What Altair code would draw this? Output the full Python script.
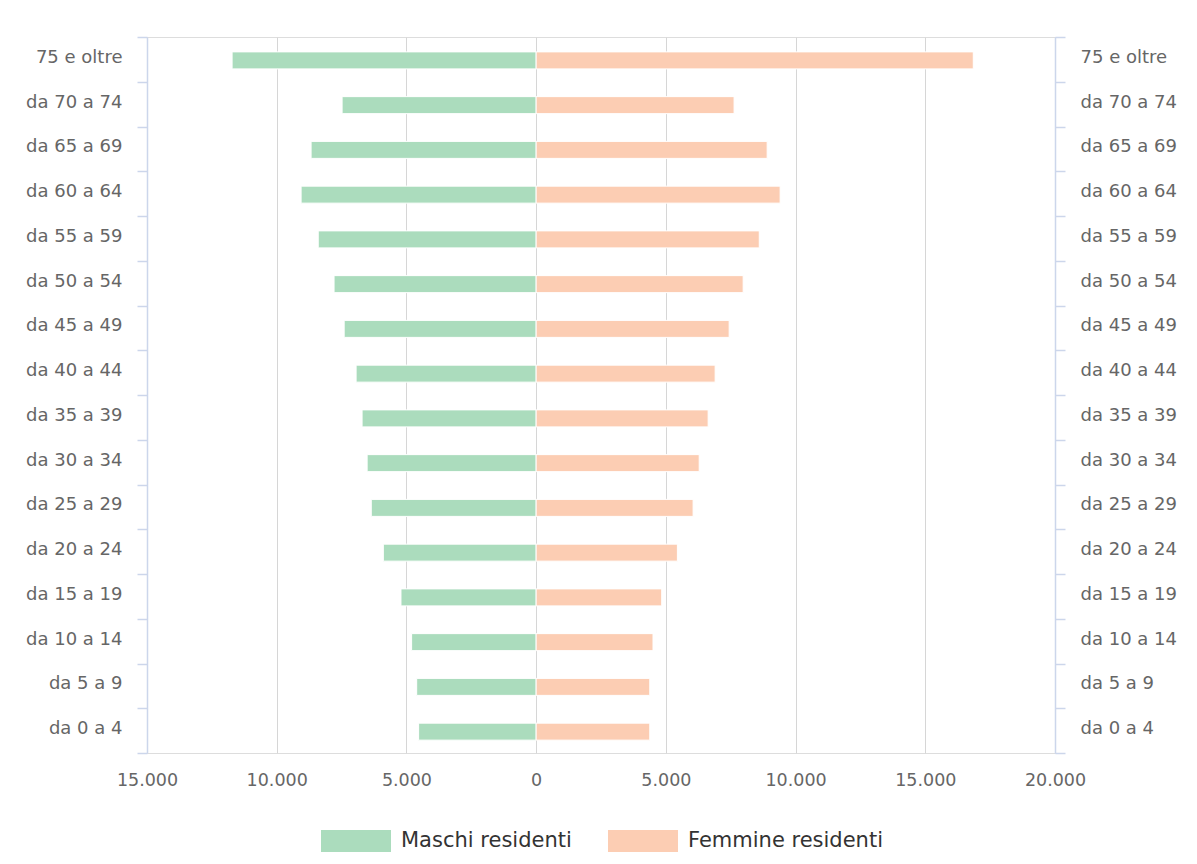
import altair as alt
import pandas as pd

ages = ["75 e oltre", "da 70 a 74", "da 65 a 69", "da 60 a 64", "da 55 a 59",
        "da 50 a 54", "da 45 a 49", "da 40 a 44", "da 35 a 39", "da 30 a 34",
        "da 25 a 29", "da 20 a 24", "da 15 a 19", "da 10 a 14", "da 5 a 9", "da 0 a 4"]
males = [11720, 7480, 8675, 9060, 8400, 7790, 7400, 6940, 6710, 6515,
         6355, 5890, 5210, 4800, 4605, 4530]
females = [16850, 7630, 8905, 9405, 8600, 7980, 7440, 6900, 6630, 6285,
           6050, 5445, 4840, 4505, 4380, 4380]
series = ["Maschi residenti", "Femmine residenti"]
tick_values = [-15000, -10000, -5000, 0, 5000, 10000, 15000, 20000]

rows = []
for a, m, f in zip(ages, males, females):
    rows.append({"age": a, "sex": series[0], "value": -m})
    rows.append({"age": a, "sex": series[1], "value": f})
df = pd.DataFrame(rows)

FONT = "DejaVu Sans"
AXIS_COL = "#ccd6eb"
LABEL_COL = "#666666"

x_enc = alt.X(
    "value:Q",
    scale=alt.Scale(domain=[-15000, 20000], nice=False, zero=False),
    axis=alt.Axis(
        values=tick_values,
        labelExpr="replace(format(abs(datum.value), ','), ',', '.')",
        grid=True, gridColor="#d6d6d6", gridWidth=1,
        domain=False, ticks=False, labelFlush=False,
        labelFontSize=17.5, labelColor=LABEL_COL, labelPadding=18,
        labelFont=FONT, title=None,
    ),
)

y_scale = alt.Scale(domain=ages, paddingInner=0, paddingOuter=0)

def y_axis(orient):
    return alt.Axis(
        orient=orient, title=None, grid=False,
        domainColor=AXIS_COL, domainWidth=1.5, tickColor=AXIS_COL, tickWidth=1.5,
        tickSize=10, tickBand="extent",
        labelPadding=15, labelFontSize=18, labelColor=LABEL_COL, labelFont=FONT,
        labelLimit=300, labelOffset=-2,
    )

color_enc = alt.Color(
    "sex:N",
    scale=alt.Scale(domain=series, range=["#abdcbd", "#fccdb3"]),
    legend=alt.Legend(
        title=None, orient="none", direction="horizontal",
        legendX=174, legendY=769,
        symbolType="M-1,-0.314H1V0.314H-1Z", symbolSize=4900, symbolStrokeWidth=0,
        symbolOpacity=1,
        labelFontSize=21, labelColor="#333333", labelFont=FONT, labelLimit=400,
        labelOffset=10, columnPadding=36, padding=0,
    ),
)

left = alt.Chart(df).transform_filter(
    alt.datum.sex == series[0]
).mark_bar(stroke="white", strokeWidth=1, size=17, yOffset=1).encode(
    x=x_enc,
    y=alt.Y("age:N", sort=ages, scale=y_scale, axis=y_axis("left")),
    color=color_enc,
)

right = alt.Chart(df).transform_filter(
    alt.datum.sex == series[1]
).mark_bar(stroke="white", strokeWidth=1, size=17, yOffset=1).encode(
    x=x_enc,
    y=alt.Y("age:N", sort=ages, scale=y_scale, axis=y_axis("right")),
    color=color_enc,
)

chart = alt.layer(left, right).resolve_axis(y="independent").properties(
    width=908, height=716,
    autosize=alt.AutoSizeParams(type="none"),
    padding={"left": 139, "top": 29, "right": 134, "bottom": 110},
).configure_view(strokeWidth=0).configure(font=FONT)

chart.save("out.html", embed_options={"renderer": "svg", "actions": False})
